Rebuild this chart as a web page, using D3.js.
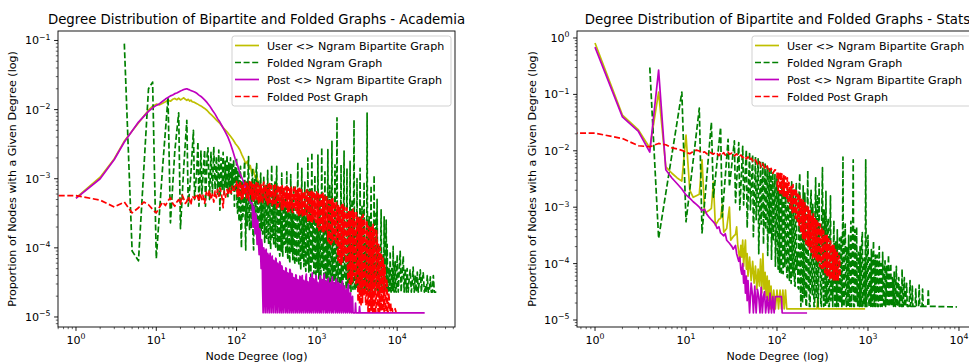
<!DOCTYPE html>
<html>
<head>
<meta charset="utf-8">
<script src="https://cdn.jsdelivr.net/npm/d3@7/dist/d3.min.js"></script>
<style>
  body { margin: 0; background: #fff; }
  text { font-family: "DejaVu Sans", sans-serif; fill: #000; }
</style>
</head>
<body>
<div id="chart"></div>
<script>
// ---- data ----
var seriesNames = ["User <> Ngram Bipartite Graph", "Folded Ngram Graph",
                   "Post <> Ngram Bipartite Graph", "Folded Post Graph"];
var xTickExp = [0, 1, 2, 3, 4];
var acadYTickExp = [-1, -2, -3, -4, -5];
var statsYTickExp = [0, -1, -2, -3, -4, -5];

// low-degree parts: [node degree, proportion of nodes]
var acadUser = [[1,5.3e-4],[2,1.05e-3],[3,1.95e-3],[4,3.5e-3],[5,4.9e-3],[6,6.4e-3],[7,8.1e-3],[8,9.8e-3],[9,1.12e-2],[10,1.2e-2],
  [11,1.17e-2],[12,1.24e-2],[13,1.3e-2],[14,1.37e-2],[15,1.32e-2],[16,1.41e-2],[17,1.45e-2],[18,1.39e-2],[19,1.46e-2],[20,1.38e-2],
  [21,1.43e-2],[22,1.48e-2],[23,1.41e-2],[24,1.36e-2],[25,1.41e-2],[26,1.33e-2],[27,1.37e-2],[28,1.3e-2],[30,1.27e-2],[32,1.22e-2],
  [34,1.17e-2],[36,1.13e-2],[38,1.08e-2],[40,1.04e-2],[43,9.7e-3],[46,8.9e-3],[49,8.3e-3],[53,7.6e-3],[57,6.9e-3],[62,6.3e-3],
  [67,5.6e-3],[72,5.1e-3],[78,4.6e-3],[84,4.1e-3],[90,3.7e-3],[97,3.2e-3],[104,2.9e-3],[110,2.6e-3],[117,2.2e-3],[124,1.9e-3],
  [130,1.65e-3],[137,1.8e-3],[142,1.4e-3],[148,1.55e-3],[155,1.2e-3],[162,1.35e-3],[170,1.05e-3],[178,1.15e-3],[186,8.5e-4],
  [195,6.5e-4],[205,4.6e-4]];

var acadNgram = [[4,9e-2],[5,9e-5],[6,6.5e-5],[8,2.0e-2],[9,2.5e-2],[10,7e-5],[12,1.5e-3],[14,1.5e-2],[15,2.3e-4],[17,2.5e-3],
  [19,9e-3],[20,1.9e-4],[22,1.5e-3],[24,7e-3],[25,4e-4],[27,1.2e-3],[29,5e-3],[30,5e-4],[32,1.4e-3],[33,3.4e-3],[34,4e-4],
  [36,2.5e-3],[37,6e-4],[39,1.7e-3],[40,2.6e-3],[41,4e-4],[43,2.2e-3],[44,2.8e-3],[46,5e-4],[48,2.4e-3],[50,6e-4],[52,2.9e-3],
  [54,7e-4],[56,2.1e-3],[58,6e-4],[60,2.6e-3],[62,3.5e-4],[64,2.0e-3],[66,7e-4],[68,2.4e-3],[70,6e-4],[72,1.8e-3],[74,7.5e-4],
  [76,2.2e-3],[78,5.5e-4],[80,1.7e-3],[82,7e-4],[84,2.0e-3],[86,6e-4],[88,1.6e-3],[90,7.5e-4],[92,1.9e-3],[94,4e-4],[96,1.5e-3],
  [98,6.5e-4]];

var acadPost = [[1,5.2e-4],[2,1.0e-3],[3,1.9e-3],[4,3.4e-3],[5,4.9e-3],[6,6.6e-3],[7,8.0e-3],[8,9.4e-3],[9,1.06e-2],[10,1.15e-2],
  [11,1.22e-2],[12,1.32e-2],[13,1.42e-2],[14,1.5e-2],[15,1.58e-2],[16,1.63e-2],[17,1.7e-2],[18,1.74e-2],[19,1.8e-2],[20,1.86e-2],
  [21,1.9e-2],[22,1.95e-2],[23,1.98e-2],[24,2.0e-2],[25,1.96e-2],[26,1.93e-2],[27,1.88e-2],[28,1.86e-2],[30,1.8e-2],[32,1.72e-2],
  [34,1.62e-2],[36,1.55e-2],[38,1.46e-2],[40,1.38e-2],[43,1.26e-2],[46,1.14e-2],[50,9.8e-3],[54,8.6e-3],[58,7.4e-3],[62,6.6e-3],
  [67,5.6e-3],[72,4.8e-3],[78,4.0e-3],[84,3.2e-3],[90,2.5e-3],[96,1.95e-3],[103,1.55e-3],[110,1.2e-3],[120,9.5e-4],[130,7.2e-4],
  [140,5.6e-4],[150,4.4e-4]];
var acadPostEnd = [[22000,1.15e-5]];

var acadFoldedPost = [[0.001,5.7e-4],[1,5.7e-4],[2,4.9e-4],[3,3.9e-4],[4,4.6e-4],[5,3.2e-4],[6,3.8e-4],[7,4.6e-4],[8,4.2e-4],
  [9,3.6e-4],[10,3.2e-4],[11,3.9e-4],[12,4.6e-4],[13,4.1e-4],[14,4.8e-4],[15,5.3e-4],[16,4.4e-4],[17,4.0e-4],[18,4.6e-4],
  [19,5.0e-4],[20,4.3e-4],[21,5.8e-4],[22,5.1e-4],[23,4.4e-4],[24,4.7e-4],[25,5.5e-4],[26,4.9e-4],[27,4.2e-4],[28,5.6e-4],
  [30,5.2e-4],[32,6.0e-4],[34,4.7e-4],[35,6.2e-4],[37,5.0e-4],[38,5.8e-4],[40,4.4e-4],[42,6.4e-4],[44,5.5e-4],[46,6.8e-4],
  [48,5.0e-4],[50,6.0e-4],[52,4.6e-4],[54,6.6e-4],[56,5.3e-4],[58,7.0e-4],[60,5.6e-4],[62,7.4e-4],[65,6.0e-4],[68,3.8e-4],
  [70,6.6e-4],[73,5.4e-4],[76,7.0e-4],[79,5.8e-4],[82,7.4e-4],[85,6.2e-4],[88,7.8e-4],[92,6.4e-4],[96,8.0e-4]];

var statsUser = [[1,0.815],[2,0.043],[3,0.0234],[4,0.0112],[5,0.11],[6,5.2e-3],[7,4.0e-3],[8,3.3e-3],[9,2.9e-3],[10,0.019],
  [11,2.0e-3],[12,1.5e-3],[13,1.6e-3],[14,1.7e-3],[15,6.9e-3],[16,7.9e-4],[17,8.3e-4],[18,8.8e-4],[19,9.5e-4],[20,2.8e-3],
  [21,4.8e-4],[22,5.4e-4],[23,6.1e-4],[24,6.3e-4],[25,1.1e-3],[26,3.6e-4],[28,4.2e-4],[30,1.0e-3],[31,2.6e-4],[33,3.0e-4],
  [35,3.3e-4],[36,4.5e-4],[37,2.2e-4],[39,1.15e-4],[40,2.1e-4],[41,1.3e-4],[42,2.6e-4],[43,9e-5],[44,1.7e-4],[45,2.6e-4],
  [46,8e-5],[47,1.5e-4],[48,6e-5],[50,1.3e-4],[52,5e-5],[54,1.1e-4],[56,4.5e-5],[58,9e-5],[60,3.5e-5],[62,8e-5],[64,4e-5],
  [66,1.2e-4],[68,3e-5],[70,1.5e-4],[72,3.5e-5],[74,7e-5],[76,2.5e-5],[78,6e-5],[80,2.2e-5],[82,5e-5],[84,1.57e-5],[86,4e-5],
  [88,1.57e-5],[92,3.4e-5],[96,1.57e-5],[100,3.4e-5],[104,1.57e-5],[108,3.4e-5],[112,1.57e-5],[116,3.4e-5],[120,1.57e-5],
  [124,3.4e-5],[128,1.57e-5],[275,1.57e-5],[280,2.4e-5],[285,1.57e-5],[930,1.57e-5]];

var statsNgram = [[4,0.30],[5,2.8e-4],[9,0.11],[10,5.5e-4],[14,0.057],[15,3.5e-4],[19,0.032],[20,1.5e-3],[24,0.026],[25,6.7e-4],
  [29,0.016],[30,2.3e-3],[34,0.015],[35,1.2e-3],[38,0.014],[39,9e-4],[42,0.012],[43,1.1e-3],[46,0.0105],[47,4.3e-4],[50,0.0095],
  [51,9e-4],[54,0.0085],[55,3e-4],[58,0.0078],[59,6e-4],[62,0.0072],[63,1.5e-4],[66,0.0066],[67,5e-4],[70,0.0062],[71,2.2e-4],
  [74,0.0058],[75,4e-4],[78,0.0052],[79,1.4e-4],[82,0.0048],[83,3.5e-4],[86,0.0045],[87,1.2e-4],[90,0.0042],[91,2.5e-4],
  [95,0.0038],[96,9e-5]];
var statsNgramEnd = [[9520,1.7e-5]];

var statsPost = [[1,0.69],[2,0.040],[3,0.022],[4,0.0095],[5,0.27],[6,4.6e-3],[7,3.3e-3],[8,2.6e-3],[9,2.1e-3],[10,1.65e-3],
  [11,1.45e-3],[12,1.25e-3],[13,1.12e-3],[14,1.0e-3],[15,8.7e-4],[16,9.2e-4],[17,7.4e-4],[18,6.6e-4],[19,6.0e-4],[20,5.5e-4],
  [21,5.0e-4],[22,4.2e-4],[23,4.5e-4],[24,3.5e-4],[25,3.3e-4],[26,3.1e-4],[27,3.4e-4],[28,2.6e-4],[30,2.3e-4],[32,2.0e-4],
  [33,1.8e-4],[35,2.1e-4],[36,1.5e-4],[38,1.1e-4],[39,1.3e-4],[40,8e-5],[41,6.5e-5],[42,1e-4],[43,4.5e-5],[44,7.5e-5],[45,3e-5],
  [46,6e-5],[47,2.2e-5],[48,5e-5],[50,1.33e-5],[52,4.5e-5],[54,2.6e-5],[55,1.33e-5],[57,4e-5],[59,1.33e-5],[61,3.5e-5],
  [63,2.6e-5],[65,1.33e-5],[67,3.8e-5],[69,1.33e-5],[71,2.6e-5],[73,3.2e-5],[75,1.33e-5],[78,2.6e-5],[81,1.33e-5],[84,3e-5],
  [87,1.33e-5],[90,2.6e-5],[93,1.33e-5],[96,2.6e-5],[112,2.6e-5],[114,1.33e-5],[214,1.33e-5]];

var statsFoldedPost = [[0.001,0.0205],[1,0.0205],[2,0.0165],[3,0.0123],[4,0.0118],[5,0.0135],[6,0.0128],[7,0.0113],[8,0.0108],
  [9,0.0102],[10,0.0094],[11,0.0089],[12,0.0097],[13,0.0103],[14,0.0099],[15,0.0092],[16,0.0096],[17,0.0088],[18,0.0095],
  [19,0.0091],[20,0.0087],[21,0.0094],[22,0.0089],[23,0.0082],[24,0.0091],[25,0.0086],[26,0.0093],[27,0.0084],[28,0.0089],
  [29,0.0095],[30,0.0087],[32,0.0091],[34,0.0081],[36,0.0088],[38,0.0079],[40,0.0084],[42,0.0076],[44,0.0081],[46,0.0072],
  [48,0.0078],[50,0.0068],[52,0.0074],[55,0.0063],[58,0.0069],[61,0.0058],[64,0.0064],[67,0.0052],[70,0.0059],[74,0.0047],
  [78,0.0054],[82,0.0042],[86,0.0049],[90,0.0040],[95,0.0046]];

// high-degree parts: node degrees shared by the noisy tails
var tailDegrees = [100,103,106,109,112,115,119,122,126,130,133,137,141,145,150,154,158,163,168,173,
  178,183,188,194,200,205,211,218,224,231,237,244,251,259,266,274,282,290,299,307,
  316,326,335,345,355,365,376,387,398,410,422,434,447,460,473,487,501,516,531,546,
  562,579,596,613,631,649,668,688,708,729,750,772,794,818,841,866,891,917,944,972,
  1000,1030,1060,1090,1120,1150,1190,1220,1260,1300,1330,1370,1410,1450,1500,1540,1580,1630,1680,1730,
  1780,1830,1880,1940,2000,2050,2110,2180,2240,2310,2370,2440,2510,2590,2660,2740,2820,2900,2990,3070,
  3160,3260,3350,3450,3550,3650,3760,3870,3980,4100,4220,4340,4470,4600,4730,4870,5010,5160,5310,5460,
  5620,5790,5960,6130,6310,6490,6680,6880,7080,7290,7500,7720,7940,8180,8410,8660,8910,9170,9440,9720,
  10000,10300,10600,10900,11200,11500,11900,12200,12600,13000,13300,13700,14100,14500,15000,15400,15800,16300,16800,17300,
  17800,18300,18800,19400,20000,20500,21100,21800,22400,23100,23700,24400,25100,25900,26600,27400,28200,29000,29900,30700];
// degrees lying between consecutive tail degrees (used by the densest bands)
var tailMidDegrees = [101,104,107,110,113,117,120,124,128,131,135,139,143,147,152,156,160,165,170,175,
  180,185,191,197,202,208,214,221,227,234,240,247,255,262,270,278,286,294,303,311,
  321,330,340,350,360,370,381,392,404,416,428,440,453,466,480,494,508,523,538,554,
  570,587,604,622,640,658,678,698,718,739,761,783,806,829,853,878,904,930,958,986,
  1015,1045,1075,1105,1135,1170,1205,1240,1280,1315,1350,1390,1430,1475,1520,1560,1605,1655,1705,1755,
  1805,1855,1910,1970,2025,2080,2145,2210,2275,2340,2405,2475,2550,2625,2700,2780,2860,2945,3030,3115,
  3210,3305,3400,3500,3600,3705,3815,3925,4040,4160,4280,4405,4535,4665,4800,4940,5085,5235,5385,5540,
  5705,5875,6045,6220,6400,6585,6780,6980,7185,7395,7610,7830,8060,8295,8535,8785,9040,9305,9580,9860];

// tail proportions as log10 values, one per degree of the grid (starting at the given degree)
var acadNgramTailLog = [
  -2.70,-3.35,-3.50,-2.90,-3.10,-3.58,-3.62,-2.95,-2.82,-3.70,-4.00,-3.05,-3.25,-3.55,-3.45,-2.88,-2.75,-3.60,-4.03,-3.15,
  -3.05,-3.68,-3.60,-2.92,-2.68,-3.50,-3.75,-3.10,-3.20,-3.72,-3.66,-2.98,-2.85,-3.80,-4.03,-3.15,-3.00,-3.62,-3.72,-2.90,
  -2.78,-3.60,-3.82,-3.02,-3.15,-3.85,-3.88,-3.05,-2.92,-3.75,-3.55,-3.20,-3.80,-3.35,-2.98,-3.70,-3.92,-3.25,-3.10,-3.84,
  -3.86,-3.30,-2.88,-3.80,-3.95,-3.10,-3.20,-3.90,-4.02,-3.15,-2.80,-3.85,-3.70,-3.25,-3.96,-3.40,-3.05,-3.92,-3.99,-3.20,
  -2.82,-3.90,-4.05,-3.30,-3.25,-4.00,-4.12,-3.35,-3.60,-4.05,-2.92,-3.75,-4.13,-3.40,-3.15,-3.95,-3.85,-3.30,-4.09,-3.50,
  -2.90,-4.00,-4.15,-3.40,-3.35,-4.10,-4.22,-3.45,-2.94,-4.05,-3.75,-3.30,-4.17,-3.60,-3.10,-4.12,-4.24,-3.55,-3.50,-4.18,
  -4.19,-3.50,-2.76,-4.10,-4.25,-3.55,-3.30,-4.20,-4.32,-3.60,-2.85,-4.15,-3.90,-3.45,-4.27,-3.70,-3.05,-4.22,-4.34,-3.65,
  -3.40,-4.25,-2.70,-4.10,-4.35,-3.60,-3.15,-4.30,-4.42,-3.70,-2.62,-4.20,-3.80,-3.55,-4.37,-3.75,-2.95,-4.30,-4.44,-3.80,
  -3.60,-4.35,-2.66,-4.20,-4.45,-3.70,-3.25,-4.40,-4.50,-3.80,-2.55,-4.30,-4.05,-3.65,-4.47,-3.85,-2.90,-4.42,-4.52,-3.90,
  -3.70,-4.45,-2.58,-4.35,-4.53,-3.80,-3.10,-4.50,-4.57,-3.85,-2.46,-4.40,-3.95,-3.75,-4.55,-3.90,-2.80,-4.50,-4.58,-3.95,
  -2.12,-4.50,-4.56,-3.85,-3.50,-4.55,-4.59,-3.90,-2.80,-4.52,-4.20,-3.80,-4.61,-3.95,-2.60,-4.45,-3.90,-4.05,-4.60,-3.85,
  -2.85,-4.55,-4.62,-3.90,-3.60,-4.58,-2.75,-4.40,-4.63,-3.95,-3.30,-4.55,-4.60,-3.85,-2.15,-4.50,-4.62,-4.00,-3.80,-4.57,
  -3.00,-4.58,-4.63,-4.00,-3.70,-4.55,-2.85,-4.45,-4.63,-4.05,-3.40,-4.58,-4.62,-3.95,-3.05,-4.52,-4.63,-4.10,-3.90,-4.60,
  -2.05,-4.55,-4.63,-4.05,-3.55,-4.60,-4.62,-4.00,-3.10,-4.55,-4.63,-4.10,-3.95,-4.58,-2.95,-4.50,-4.63,-4.15,-3.50,-4.60,
  -3.30,-4.58,-4.63,-4.15,-3.95,-4.62,-4.60,-4.10,-3.45,-4.58,-4.63,-4.20,-4.10,-4.62,-3.55,-4.55,-4.63,-4.25,-3.60,-4.60,
  -3.95,-4.60,-4.64,-4.35,-4.30,-4.62,-4.05,-4.58,-4.64,-4.30,-4.40,-4.63,-3.98,-4.60,-4.64,-4.35,-4.20,-4.62,-4.64,-4.40];
var acadNgramFarLog = [
  -4.10,-4.64,-4.35,-4.05,-4.64,-4.40,-4.12,-4.64,-4.30,-4.64, -4.30,-4.64,-4.45,-4.32,-4.64,-4.50,-4.28,-4.64,-4.40,-4.64,
  -4.35,-4.64,-4.50,-4.32,-4.64,-4.45,-4.36,-4.64,-4.55,-4.64, -4.40,-4.64,-4.64,-4.42,-4.64,-4.64,-4.40,-4.64,-4.64,-4.64];

var acadPostTailLog = [
  -3.35,-3.55,-3.70,-3.40,-3.45,-3.65,-3.80,-3.50,-3.55,-3.80,-3.95,-3.60,-3.65,-3.95,-4.10,-3.72,-3.78,-4.15,-4.30,-3.88,
  -3.95,-4.60,-4.94,-4.00,-4.05,-4.80,-4.94,-4.04,-4.02,-4.70,-4.94,-4.08,-4.10,-4.85,-4.94,-4.12,-4.08,-4.75,-4.94,-4.14,
  -4.12,-4.80,-4.94,-4.18,-4.20,-4.70,-4.94,-4.15,-4.16,-4.85,-4.94,-4.22,-4.25,-4.75,-4.94,-4.20,-4.22,-4.88,-4.94,-4.26,
  -4.28,-4.85,-4.94,-4.33,-4.35,-4.80,-4.94,-4.29,-4.30,-4.90,-4.94,-4.36,-4.38,-4.82,-4.94,-4.31,-4.32,-4.88,-4.94,-4.37,
  -4.38,-4.88,-4.94,-4.43,-4.45,-4.85,-4.94,-4.39,-4.40,-4.90,-4.94,-4.46,-4.48,-4.86,-4.94,-4.41,-4.42,-4.90,-4.94,-4.44,
  -4.40,-4.88,-4.94,-4.47,-4.50,-4.86,-4.94,-4.42,-4.38,-4.90,-4.94,-4.49,-4.52,-4.87,-4.94,-4.43,-4.45,-4.90,-4.94,-4.41,
  -4.36,-4.88,-4.94,-4.45,-4.48,-4.86,-4.94,-4.40,-4.42,-4.90,-4.94,-4.50,-4.55,-4.88,-4.94,-4.44,-4.40,-4.90,-4.94,-4.47,
  -4.46,-4.88,-4.94,-4.41,-4.38,-4.86,-4.94,-4.48,-4.52,-4.90,-4.94,-4.45,-4.44,-4.88,-4.94,-4.53,-4.50,-4.90,-4.94,-4.47,
  -4.42,-4.88,-4.94,-4.50,-4.56,-4.86,-4.94,-4.47,-4.45,-4.90,-4.94,-4.55,-4.50,-4.88,-4.94,-4.52,-4.58,-4.90,-4.94,-4.54,
  -4.48,-4.88,-4.94,-4.58,-4.55,-4.90,-4.94,-4.62,-4.60,-4.90,-4.94,-4.56,-4.52,-4.90,-4.94,-4.66,-4.65,-4.92,-4.94,-4.75,
  -4.70,-4.94,-4.94,-4.94,-4.94,-4.94,-4.80,-4.94,-4.94,-4.94,-4.94,-4.94,-4.94,-4.94,-4.85,-4.94,-4.94,-4.94,-4.94,-4.94];

var acadFoldedPostTailLog = [
  -3.04,-3.18,-3.27,-3.08,-3.12,-3.26,-3.20,-3.03,-3.06,-3.22,-3.30,-3.10,-3.15,-3.28,-3.09,-3.21,-3.24,-3.07,-3.05,-3.25,
  -3.28,-3.06,-3.10,-3.29,-3.31,-3.12,-3.04,-3.25,-3.22,-3.05,-3.17,-3.30,-3.08,-3.20,-3.32,-3.09,-3.13,-3.29,-3.27,-3.06,
  -3.06,-3.30,-3.21,-3.07,-3.35,-3.16,-3.09,-3.33,-3.29,-3.08,-3.14,-3.34,-3.36,-3.10,-3.05,-3.27,-3.25,-3.07,-3.33,-3.12,
  -3.11,-3.33,-3.39,-3.08,-3.18,-3.37,-3.07,-3.28,-3.34,-3.10,-3.24,-3.39,-3.40,-3.12,-3.10,-3.36,-3.30,-3.09,-3.15,-3.38,
  -3.43,-3.14,-3.09,-3.40,-3.27,-3.11,-3.38,-3.16,-3.12,-3.42,-3.45,-3.10,-3.20,-3.44,-3.13,-3.35,-3.41,-3.12,-3.26,-3.44,
  -3.11,-3.40,-3.48,-3.13,-3.32,-3.47,-3.15,-3.36,-3.44,-3.12,-3.22,-3.48,-3.49,-3.16,-3.14,-3.45,-3.37,-3.12,-3.46,-3.18,
  -3.17,-3.50,-3.29,-3.15,-3.53,-3.22,-3.14,-3.51,-3.46,-3.16,-3.38,-3.54,-3.19,-3.44,-3.55,-3.18,-3.25,-3.52,-3.50,-3.17,
  -3.16,-3.55,-3.61,-3.19,-3.34,-3.62,-3.20,-3.50,-3.64,-3.18,-3.45,-3.63,-3.17,-3.40,-3.58,-3.21,-3.28,-3.60,-3.63,-3.19,
  -3.20,-3.70,-3.52,-3.22,-3.75,-3.30,-3.24,-3.73,-3.66,-3.23,-3.38,-3.76,-3.21,-3.60,-3.77,-3.25,-3.45,-3.74,-3.72,-3.26,
  -3.27,-3.75,-3.90,-3.31,-3.55,-3.93,-3.32,-3.80,-3.95,-3.30,-3.68,-3.92,-3.29,-3.62,-3.88,-3.33,-3.46,-3.91,-3.94,-3.34,
  -3.36,-4.00,-4.18,-3.39,-3.72,-4.21,-3.40,-4.05,-4.24,-3.38,-3.90,-4.20,-3.37,-3.85,-4.12,-3.41,-3.60,-4.19,-4.22,-3.42,
  -3.43,-4.25,-4.47,-3.46,-3.95,-4.51,-3.48,-4.30,-4.53,-3.45,-4.10,-4.49,-3.44,-4.05,-4.40,-3.47,-3.75,-4.50,-4.52,-3.49,
  -3.53,-4.50,-4.78,-3.56,-4.15,-4.81,-3.58,-4.55,-4.84,-3.55,-4.30,-4.79,-3.52,-4.20,-4.70,-3.57,-3.95,-4.83,-4.82,-3.60,
  -3.65,-4.70,-4.92,-3.69,-4.30,-4.92,-3.71,-4.60,-4.90,-3.70,-4.50,-4.92,-3.66,-4.40,-4.92,-3.72,-4.10,-4.92,-4.91,-3.75,
  -3.90,-4.75,-4.92,-3.95,-4.45,-4.92,-4.00,-4.70,-4.91,-4.10,-4.60,-4.92,-4.15,-4.80,-4.92,-4.25,-4.35,-4.92,-4.90,-4.45,
  -4.55,-4.92,-4.92,-4.65,-4.72,-4.92,-4.91,-4.80,-4.92,-4.92,-4.88,-4.92,-4.92,-4.92,-4.92,-4.90,-4.88,-4.92,-4.92,-4.92];

var statsNgramTailLog = [
  -2.45,-3.70,-4.10,-2.70,-3.30,-4.15,-2.60,-3.90,-4.20,-2.55,-3.60,-4.18,-2.50,-3.40,-4.05,-2.80,-3.10,-4.22,-4.25,-2.65,
  -2.65,-3.95,-4.30,-2.75,-3.50,-4.35,-2.55,-3.85,-4.22,-2.70,-3.20,-4.38,-4.40,-2.90,-2.58,-4.10,-3.80,-4.42,-4.45,-2.68,
  -2.40,-4.20,-4.76,-2.85,-3.60,-4.70,-2.62,-4.40,-4.60,-2.75,-3.10,-4.76,-4.76,-3.20,-2.35,-4.50,-3.90,-4.76,-4.76,-2.90,
  -2.70,-4.30,-4.55,-2.95,-3.40,-4.76,-4.76,-3.10,-2.48,-4.60,-4.20,-2.80,-4.76,-4.50,-2.58,-3.95,-3.70,-4.76,-4.76,-3.00,
  -2.30,-4.40,-4.76,-3.05,-3.50,-4.76,-2.72,-4.55,-4.70,-3.30,-3.20,-4.76,-4.76,-3.60,-2.80,-4.66,-4.30,-3.70,-4.76,-3.80,
  -3.25,-4.50,-4.76,-3.60,-3.90,-4.76,-3.40,-4.60,-4.76,-3.75,-3.55,-4.70,-4.30,-3.50,-4.76,-4.20,-2.11,-4.76,-4.76,-3.65,
  -3.30,-4.60,-4.76,-3.70,-4.00,-4.76,-3.50,-4.50,-4.76,-3.85,-3.25,-4.76,-4.40,-3.60,-2.16,-4.76,-4.76,-3.40,-3.90,-4.70,
  -3.35,-4.55,-4.76,-3.80,-4.10,-4.76,-3.70,-4.40,-4.76,-3.60,-3.45,-4.76,-4.76,-3.95,-3.90,-4.76,-2.16,-4.76,-4.76,-3.75,
  -3.50,-4.60,-4.76,-3.90,-4.20,-4.76,-3.75,-4.55,-4.76,-3.95,-3.60,-4.76,-4.40,-3.85,-4.76,-4.25,-3.85,-4.76,-4.76,-4.00,
  -3.70,-4.65,-4.76,-4.00,-4.30,-4.76,-3.80,-4.60,-4.76,-4.10,-3.95,-4.76,-4.50,-4.05,-4.76,-4.35,-3.85,-4.76,-4.76,-4.15,
  -4.00,-4.70,-4.76,-4.25,-4.40,-4.76,-4.15,-4.65,-4.76,-4.30,-4.05,-4.76,-4.76,-4.35,-4.25,-4.76,-4.60,-4.40,-4.76,-4.76,
  -4.10,-4.76,-4.76,-4.45,-4.25,-4.76,-4.76,-4.50,-4.35,-4.76,-4.76,-4.76,-4.76,-4.55,-4.30,-4.76,-4.76,-4.76,-4.40,-4.76,
  -4.76,-4.76,-4.76,-4.76,-4.45,-4.76,-4.76,-4.76,-4.76,-4.76,-4.38,-4.76,-4.76,-4.76,-4.76,-4.76,-4.45,-4.76,-4.76,-4.76,
  -4.76,-4.76,-4.76,-4.76,-4.76,-4.76,-4.45,-4.76,-4.76,-4.76,-4.76,-4.76,-4.76,-4.76,-4.76,-4.76,-4.76,-4.76,-4.76,-4.76];

var statsFoldedPostTailLog = [
  -2.36,-2.62,-2.70,-2.40,-2.50,-2.75,-2.38,-2.66,-2.76,-2.41,-2.55,-2.80,-2.44,-2.70,-2.82,-2.46,-2.60,-2.86,-2.48,-2.78,
  -2.90,-2.56,-2.62,-3.00,-3.02,-2.63,-2.75,-3.10,-2.60,-2.95,-3.12,-2.66,-2.85,-3.20,-2.68,-3.05,-3.25,-2.74,-2.95,-3.35,
  -2.80,-3.30,-3.45,-2.86,-3.10,-3.55,-2.88,-3.40,-3.58,-2.92,-3.25,-3.65,-2.95,-3.50,-3.68,-3.00,-3.35,-3.75,-3.06,-3.60,
  -3.80,-3.16,-3.45,-3.90,-3.12,-3.70,-3.88,-3.20,-3.55,-3.95,-3.22,-3.80,-3.98,-3.28,-3.62,-4.05,-3.30,-3.90,-4.08,-3.38,
  -3.72,-4.12,-3.42,-3.95,-4.16,-3.48,-3.82,-4.20,-3.50,-4.05,-4.24,-3.56,-3.90,-4.27,-3.60,-4.10,-4.28,-3.66,-3.95,-4.29,
  -3.68,-4.20,-4.29,-3.75,-3.98,-4.29,-3.80,-4.15,-4.29,-3.86,-3.90,-4.22];

// ---- styling / layout ----
var colors = ["#bfbf00", "#008000", "#bf00bf", "#ff0000"];
var dashed = [false, true, false, true];
var W = 969, H = 362, plotTop = 31, plotBottom = 327;

// fine grid: tail degrees interleaved with the in-between degrees
var fineDegrees = [];
tailMidDegrees.forEach(function(d, j) { fineDegrees.push(tailDegrees[j], d); });

// head pairs, then each tail [log values, degree grid, first degree], then closing pairs
function buildSeries(head, tails, end) {
  var pts = head.slice();
  (tails || []).forEach(function(t) {
    var grid = t[1];
    var s = grid.findIndex(function(d) { return d >= t[2]; });
    t[0].forEach(function(v, j) { pts.push([grid[s + j], Math.pow(10, v)]); });
  });
  return end ? pts.concat(end) : pts;
}

var panels = [
  { title: "Degree Distribution of Bipartite and Folded Graphs - Academia",
    x0: 58, x1: 455, xLog: [-0.224, 4.72], yLog: [-5.145, -0.863], yTicks: acadYTickExp,
    series: [buildSeries(acadUser),
             buildSeries(acadNgram, [[acadNgramTailLog, fineDegrees, 100], [acadNgramFarLog, tailDegrees, 10000]]),
             buildSeries(acadPost, [[acadPostTailLog, fineDegrees, 155]], acadPostEnd),
             buildSeries(acadFoldedPost, [[acadFoldedPostTailLog, fineDegrees, 100]])],
    legendX: 232, ylabelX: 16 },
  { title: "Degree Distribution of Bipartite and Folded Graphs - Stats",
    x0: 577, x1: 978, xLog: [-0.198, 4.209], yLog: [-5.124, 0.124], yTicks: statsYTickExp,
    series: [buildSeries(statsUser),
             buildSeries(statsNgram, [[statsNgramTailLog, fineDegrees, 100]], statsNgramEnd),
             buildSeries(statsPost),
             buildSeries(statsFoldedPost, [[statsFoldedPostTailLog, fineDegrees, 100]])],
    legendX: 752, ylabelX: 536 }
];

var svg = d3.select("#chart").append("svg")
    .attr("width", W)
    .attr("height", H)
    .style("background-color", "white");

function expText(sel, e) {
  sel.append("tspan").text("10");
  sel.append("tspan").attr("dy", -4.6).style("font-size", "7.8px")
     .text(e < 0 ? "\u2212" + (-e) : String(e));
}

panels.forEach(function(p, i) {
  var x = d3.scaleLog().domain([Math.pow(10, p.xLog[0]), Math.pow(10, p.xLog[1])]).range([p.x0, p.x1]);
  var y = d3.scaleLog().domain([Math.pow(10, p.yLog[0]), Math.pow(10, p.yLog[1])]).range([plotBottom, plotTop]);

  svg.append("clipPath").attr("id", "clip" + i)
     .append("rect")
     .attr("x", p.x0).attr("y", plotTop)
     .attr("width", p.x1 - p.x0).attr("height", plotBottom - plotTop);

  var plot = svg.append("g").attr("clip-path", "url(#clip" + i + ")");
  var line = d3.line().x(function(d) { return x(d[0]); }).y(function(d) { return y(d[1]); });

  p.series.forEach(function(s, k) {
    plot.append("path")
        .datum(s)
        .attr("d", line)
        .attr("fill", "none")
        .attr("stroke", colors[k])
        .attr("stroke-width", 1.7)
        .attr("stroke-linejoin", "round")
        .attr("stroke-dasharray", dashed[k] ? "6,2.6" : null);
  });

  // frame
  svg.append("rect")
     .attr("x", p.x0).attr("y", plotTop)
     .attr("width", p.x1 - p.x0).attr("height", plotBottom - plotTop)
     .attr("fill", "none").attr("stroke", "#000").attr("stroke-width", 0.9);

  // x ticks
  var xd = x.domain(), yd = y.domain();
  for (var k = Math.floor(p.xLog[0]); k <= Math.ceil(p.xLog[1]); k++) {
    for (var m = 1; m < 10; m++) {
      var v = m * Math.pow(10, k);
      if (v < xd[0] || v > xd[1]) continue;
      svg.append("line")
         .attr("x1", x(v)).attr("x2", x(v))
         .attr("y1", plotBottom).attr("y2", plotBottom + (m === 1 ? 3.9 : 2.2))
         .attr("stroke", "#000").attr("stroke-width", m === 1 ? 0.9 : 0.6);
    }
  }
  xTickExp.forEach(function(e) {
    var v = Math.pow(10, e);
    if (v < xd[0] || v > xd[1]) return;
    svg.append("text")
       .attr("x", x(v)).attr("y", 344)
       .attr("text-anchor", "middle")
       .style("font-size", "11.1px")
       .call(expText, e);
  });

  // y ticks
  for (var k2 = Math.floor(p.yLog[0]); k2 <= Math.ceil(p.yLog[1]); k2++) {
    for (var m2 = 1; m2 < 10; m2++) {
      var v2 = m2 * Math.pow(10, k2);
      if (v2 < yd[0] || v2 > yd[1]) continue;
      svg.append("line")
         .attr("x1", p.x0 - (m2 === 1 ? 3.9 : 2.2)).attr("x2", p.x0)
         .attr("y1", y(v2)).attr("y2", y(v2))
         .attr("stroke", "#000").attr("stroke-width", m2 === 1 ? 0.9 : 0.6);
    }
  }
  p.yTicks.forEach(function(e) {
    svg.append("text")
       .attr("x", p.x0 - 7.5).attr("y", y(Math.pow(10, e)) + 4)
       .attr("text-anchor", "end")
       .style("font-size", "11.1px")
       .call(expText, e);
  });

  // titles and labels
  svg.append("text")
     .attr("x", (p.x0 + p.x1) / 2).attr("y", 24)
     .attr("text-anchor", "middle")
     .style("font-size", "13.3px")
     .text(p.title);
  svg.append("text")
     .attr("x", (p.x0 + p.x1) / 2).attr("y", 359.5)
     .attr("text-anchor", "middle")
     .style("font-size", "11.1px")
     .text("Node Degree (log)");
  svg.append("text")
     .attr("transform", "translate(" + p.ylabelX + "," + ((plotTop + plotBottom) / 2) + ") rotate(-90)")
     .attr("text-anchor", "middle")
     .style("font-size", "11.1px")
     .text("Proportion of Nodes with a Given Degree (log)");

  // legend
  var lg = svg.append("g");
  lg.append("rect")
    .attr("x", p.legendX).attr("y", 36)
    .attr("width", 219).attr("height", 70)
    .attr("rx", 2.5)
    .attr("fill", "white").attr("fill-opacity", 0.8)
    .attr("stroke", "#cccccc").attr("stroke-width", 0.9);
  seriesNames.forEach(function(name, k) {
    var ly = 45.5 + k * 17;
    lg.append("line")
      .attr("x1", p.legendX + 3).attr("x2", p.legendX + 27)
      .attr("y1", ly).attr("y2", ly)
      .attr("stroke", colors[k]).attr("stroke-width", 1.7)
      .attr("stroke-dasharray", dashed[k] ? "6,2.6" : null);
    lg.append("text")
      .attr("x", p.legendX + 35).attr("y", ly + 4)
      .style("font-size", "11.1px")
      .text(name);
  });
});
</script>
</body>
</html>
